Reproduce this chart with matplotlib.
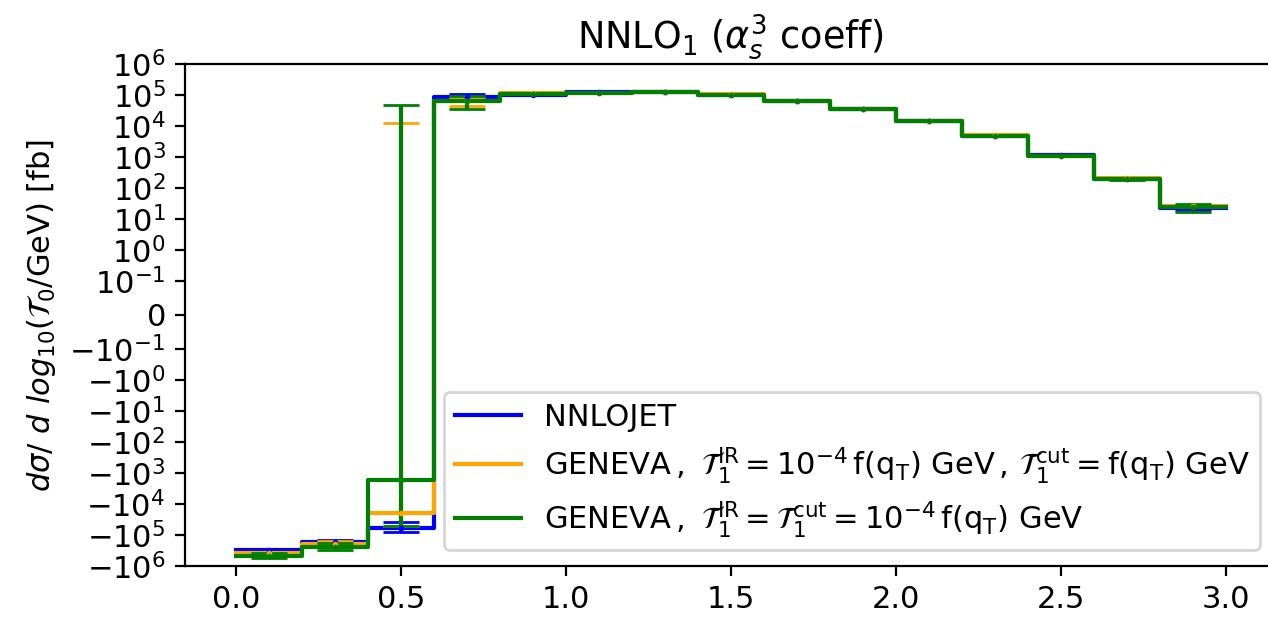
import numpy as np
import matplotlib
matplotlib.use("Agg")
import matplotlib.pyplot as plt
from matplotlib.ticker import NullLocator

plt.rcParams['font.size'] = 11

# bin edges in log10(T0/GeV)
bin_edges = [0.0, 0.2, 0.4, 0.6, 0.8, 1.0, 1.2, 1.4, 1.6, 1.8, 2.0, 2.2, 2.4, 2.6, 2.8, 3.0]

nnlojet_vals = [-3.08e5, -1.67e5, -6.1e4, 8.7e4, 1.05e5, 1.31e5, 1.30e5, 1.00e5,
                6.7e4, 3.7e4, 1.45e4, 4.7e3, 1.15e3, 195, 22.5]
nnlojet_errs = [2.4e4, 1.5e4, 2.2e4, 2.0e4, 1.0e3, 1.2e3, 1.2e3, 1.0e3,
                6.0e2, 3.5e2, 1.5e2, 50, 15, 3, 2.5]

geneva1_vals = [-3.85e5, -1.94e5, -1.92e4, 6.3e4, 1.15e5, 1.20e5, 1.25e5, 1.07e5,
                6.6e4, 3.6e4, 1.5e4, 5.0e3, 1.08e3, 210, 26.5]
geneva1_errs = [2.5e4, 3.0e4, 3.2e4, 1.82e4, 1.2e3, 1.2e3, 1.2e3, 1.0e3,
                6.0e2, 3.5e2, 1.5e2, 50, 15, 6, 2.5]

geneva2_vals = [-4.86e5, -2.45e5, -1.7e3, 6.4e4, 1.12e5, 1.17e5, 1.30e5, 1.04e5,
                6.6e4, 3.57e4, 1.49e4, 4.75e3, 1.07e3, 197, 23.8]
geneva2_errs = [9.0e4, 6.4e4, 5.07e4, 2.9e4, 1.2e3, 1.2e3, 1.3e3, 1.0e3,
                6.0e2, 3.5e2, 1.5e2, 50, 15, 10, 6.6]

labels = [
    'NNLOJET',
    r'GENEVA$\,,\ \mathcal{T}_1^{\mathrm{IR}} = 10^{-4}\,\mathrm{f(q_T)}$ GeV$\,,\,\mathcal{T}_1^{\mathrm{cut}} = \mathrm{f(q_T)}$ GeV',
    r'GENEVA$\,,\ \mathcal{T}_1^{\mathrm{IR}} = \mathcal{T}_1^{\mathrm{cut}} = 10^{-4}\,\mathrm{f(q_T)}$ GeV',
]
colors = ['blue', 'orange', 'green']

ytick_vals = [-1e6, -1e5, -1e4, -1e3, -1e2, -1e1, -1e0, -1e-1, 0,
              1e-1, 1e0, 1e1, 1e2, 1e3, 1e4, 1e5, 1e6]

W, H, DPI = 1268, 618, 200
fig = plt.figure(figsize=(W / DPI, H / DPI), dpi=DPI)
left_px, right_px, top_px, bottom_px = 185.0, 1275.5, 64.3, 565.7
ax = fig.add_axes([left_px / W, 1 - bottom_px / H,
                   (right_px - left_px) / W, (bottom_px - top_px) / H])

edges = np.array(bin_edges)
centers = 0.5 * (edges[:-1] + edges[1:])
series = [(nnlojet_vals, nnlojet_errs), (geneva1_vals, geneva1_errs), (geneva2_vals, geneva2_errs)]
for (vals, errs), c, lab in zip(series, colors, labels):
    v = np.array(vals, dtype=float)
    ax.step(edges, np.append(v, v[-1]), where='post', color=c, lw=1.5, label=lab)
    ax.errorbar(centers, v, yerr=errs, fmt='o', ms=1, color=c, capsize=6.5)

ax.set_yscale('symlog', linthresh=0.1)
ax.set_ylim(-1e6, 1e6)
ax.set_yticks(ytick_vals)
ax.yaxis.set_minor_locator(NullLocator())
ax.set_xlim(-0.1536, 3.15)

ax.set_title(r'NNLO$_1$ ($\alpha_s^3$ coeff)')
ax.set_ylabel(r'$d\sigma/\ d\ log_{10}(\mathcal{T}_0/\mathrm{GeV})$ [fb]')
ax.legend(loc='lower right', handlelength=2.16, handletextpad=0.75,
          labelspacing=0.42, borderpad=0.35)

fig.savefig('out.png', dpi=DPI)
